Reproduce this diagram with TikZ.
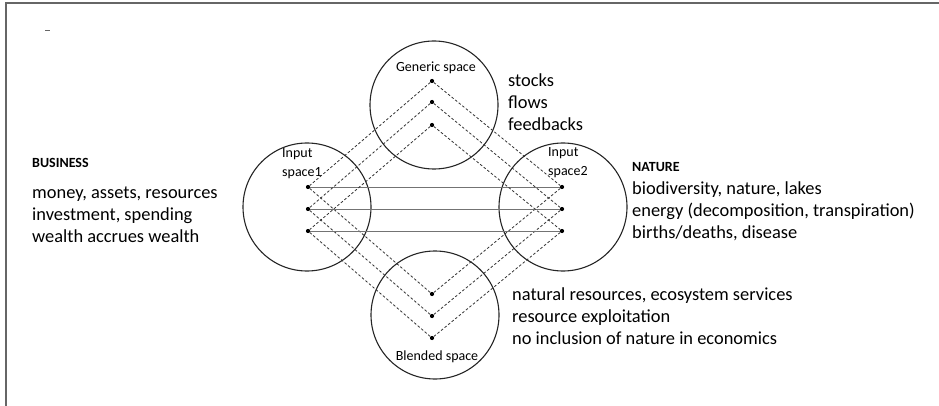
\documentclass[tikz,border=0pt]{standalone}
\usepackage{fontspec}
\setmainfont{Carlito}
\begin{document}
\begin{tikzpicture}[x=1pt,y=-1pt,
  space/.style={draw=black!85,line width=1.1pt,circle,minimum size=128pt,inner sep=0pt},
  dot/.style={circle,fill=black,inner sep=0pt,minimum size=4.2pt},
  link/.style={draw=black!80,line width=0.8pt,dash pattern=on 2.6pt off 2pt},
  bridge/.style={draw=black!55,line width=0.9pt},
  small/.style={font=\fontsize{14}{19}\selectfont,inner sep=0pt,align=left},
  big/.style={font=\fontsize{18.4}{22}\selectfont,inner sep=0pt,align=left},
  head/.style={font=\fontsize{14}{19}\selectfont\bfseries,inner sep=0pt}]
\useasboundingbox (0,0) rectangle (939,406);
% frame
\draw[black!60,line width=2pt] (6,407) -- (6,3) -- (940,3);
\draw[black!60,line width=1pt] (45,31) -- (50,31);

% the four spaces
\node[space] (gen) at (434,105) {};
\node[space] (in1) at (307,207) {};
\node[space] (in2) at (563,207) {};
\node[space] (bld) at (435,315) {};

% labels inside the spaces (multi-line nodes are placed by their last baseline)
\node[small,anchor=base] (genlbl) at (436,72) {Generic space};
\node[small,anchor=base west] (in1lbl) at (282,177) {Input\\space1};
\node[small,anchor=base west] (in2lbl) at (548,176) {Input\\space2};
\node[small,anchor=base] (bldlbl) at (437,360) {Blended space};

% element dots
\foreach \i/\yg/\yi/\yb in {1/81/187/294, 2/102/209/316, 3/125/231/338} {
  \node[dot] (g\i) at (432,\yg) {};
  \node[dot] (a\i) at (308,\yi) {};
  \node[dot] (b\i) at (562,\yi) {};
  \node[dot] (c\i) at (432,\yb) {};
}

% cross-space mappings
\foreach \i in {1,2,3} {
  \draw[bridge] (a\i) -- (b\i);
  \draw[link] (g\i) -- (a\i);
  \draw[link] (g\i) -- (b\i);
  \draw[link] (a\i) -- (c\i);
  \draw[link] (b\i) -- (c\i);
}

% descriptive text
\node[big,anchor=base west] (gentxt) at (508,131) {stocks\\flows\\feedbacks};
\node[head,anchor=base west] (bushead) at (32,168) {BUSINESS};
\node[big,anchor=base west] (bustxt) at (32,242) {money, assets, resources\\investment, spending\\wealth accrues wealth};
\node[head,anchor=base west] (nathead) at (632,172) {NATURE};
\node[big,anchor=base west] (nattxt) at (632,238) {biodiversity, nature, lakes\\energy (decomposition, transpiration)\\births/deaths, disease};
\node[big,anchor=base west] (bldtxt) at (512,344) {natural resources, ecosystem services\\resource exploitation\\no inclusion of nature in economics};
\end{tikzpicture}
\end{document}
